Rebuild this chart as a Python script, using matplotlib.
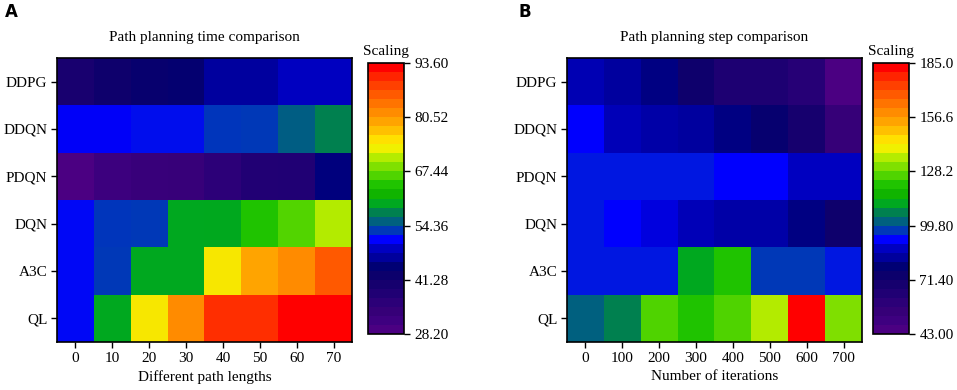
import numpy as np
import matplotlib
matplotlib.use('Agg')
import matplotlib.pyplot as plt
import matplotlib.cm as cm
from matplotlib.colors import ListedColormap, LinearSegmentedColormap, Normalize

plt.rcParams['font.family'] = 'Liberation Serif'
plt.rcParams['font.size'] = 11

algos = ['DDPG', 'DDQN', 'PDQN', 'DQN', 'A3C', 'QL']
path_lengths = [0, 10, 20, 30, 40, 50, 60, 70]
iterations = [0, 100, 200, 300, 400, 500, 600, 700]

# panel A: path planning time
time_vals = [
    [39.8, 41.9, 43.2, 43.7, 46.9, 46.9, 48.9, 49.0],
    [50.9, 50.9, 51.7, 51.7, 53.2, 53.3, 55.3, 57.6],
    [28.2, 31.9, 33.1, 33.2, 35.8, 37.8, 38.0, 45.1],
    [51.4, 53.2, 53.3, 59.8, 59.9, 64.2, 66.4, 70.7],
    [51.4, 53.3, 59.8, 59.8, 74.0, 79.4, 81.6, 86.0],
    [51.4, 59.8, 74.0, 81.6, 89.5, 89.4, 93.6, 93.5],
]

# panel B: path planning steps
step_vals = [
    [86.5, 83.7, 80.4, 72.8, 65.7, 65.6, 61.9, 43.0],
    [92.7, 87.0, 84.7, 83.7, 80.4, 76.1, 69.0, 54.8],
    [94.6, 94.6, 94.6, 94.6, 92.7, 92.7, 88.0, 88.0],
    [94.6, 92.7, 90.3, 87.0, 84.7, 84.7, 80.4, 72.8],
    [94.6, 94.6, 94.6, 111.6, 121.1, 97.4, 97.5, 94.6],
    [102.2, 106.9, 125.8, 121.1, 125.9, 135.3, 185.0, 130.6],
]

# origin-like stepped rainbow, 30 levels
rainbow = ['#4b0082', '#3e0080', '#360078', '#2c0078', '#200074', '#16006e',
           '#0c006c', '#000074', '#00009c', '#0000c0', '#0000ff', '#0038b8',
           '#006080', '#008050', '#00a820', '#10b400', '#20c400', '#50d400',
           '#80e000', '#b4ec00', '#f0f000', '#ffe000', '#ffc000', '#ffa400',
           '#ff8c00', '#ff7400', '#ff5a00', '#ff4000', '#ff2400', '#ff0000']
n = len(rainbow)
bar_cmap = ListedColormap(rainbow)
stops = [(0.0, rainbow[0])] + [((i + 0.5) / n, c) for i, c in enumerate(rainbow)] + [(1.0, rainbow[-1])]
map_cmap = LinearSegmentedColormap.from_list('rb', stops, N=512)

fig = plt.figure(figsize=(9.57, 3.9), dpi=100)
W, H = 957., 390.


def panel(data, xlabels, title, xlabel, ax_left, cax_left, letter, letter_x):
    data = np.array(data)
    vmin, vmax = data.min(), data.max()
    norm = Normalize(vmin, vmax)
    ax = fig.add_axes([ax_left / W, (H - 342) / H, 295 / W, 284 / H])
    ax.imshow(data, cmap=map_cmap, norm=norm, aspect='auto',
              interpolation='nearest')
    ax.set_xticks(range(len(xlabels)))
    ax.set_xticklabels(xlabels)
    ax.set_yticks(range(len(algos)))
    ax.set_yticklabels(algos)
    ax.tick_params(length=4, width=1, direction='out', pad=3)
    for s in ax.spines.values():
        s.set_linewidth(1.2)
    ax.set_title(title, fontsize=11, pad=12)
    ax.set_xlabel(xlabel, fontsize=11, labelpad=4)

    cax = fig.add_axes([cax_left / W, (H - 334) / H, 36 / W, 271 / H])
    ticks = np.linspace(vmin, vmax, 6)
    cb = fig.colorbar(cm.ScalarMappable(norm=norm, cmap=bar_cmap), cax=cax, ticks=ticks)
    cb.ax.set_yticklabels(['%#.4g' % t for t in ticks])
    cb.ax.tick_params(length=4, width=1, labelsize=11)
    cb.outline.set_linewidth(1.2)
    cax.set_title('Scaling', fontsize=11, pad=6)

    fig.text(letter_x / W, 1 - 12 / H, letter, family='DejaVu Sans',
             fontweight='bold', fontsize=12, va='center', ha='left')


panel(time_vals, path_lengths, 'Path planning time comparison',
      'Different path lengths', 57, 368, 'A', 5)
panel(step_vals, iterations, 'Path planning step comparison',
      'Number of iterations', 567, 873, 'B', 518)

plt.savefig('out.png', dpi=100)
